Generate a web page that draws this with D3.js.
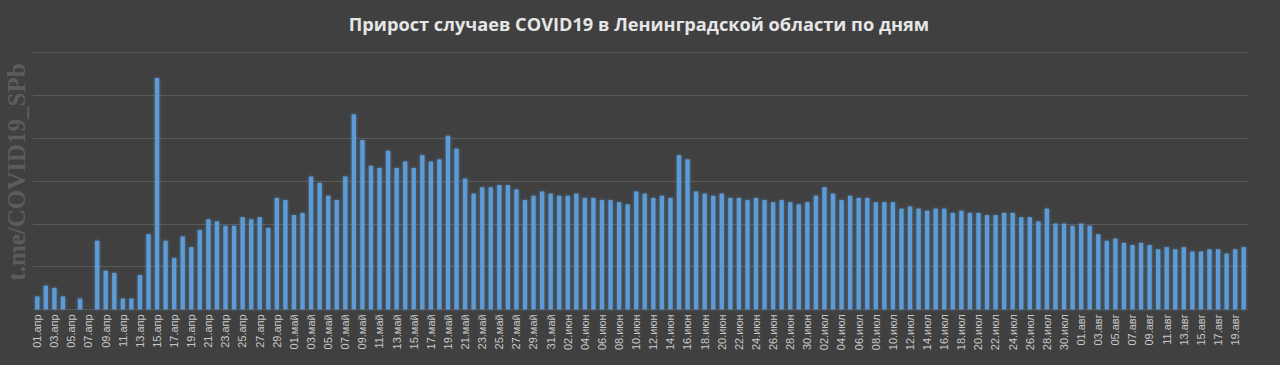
<!DOCTYPE html>
<html>
<head>
<meta charset="utf-8">
<script src="https://cdn.jsdelivr.net/npm/d3@7"></script>
<style>
  html, body { margin: 0; padding: 0; background: #404040; }
  svg { display: block; }
</style>
</head>
<body>
<svg id="chart" width="1280" height="365"></svg>
<script>
const chartTitle = "Прирост случаев COVID19 в Ленинградской области по дням";
const watermark = "t.me/COVID19_SPb";
const monthNames = ["апр", "май", "июн", "июл", "авг"];
const aprValues = [6,11,10,6,0,5,0,32,18,17,5,5,16,35,108,32,24,34,29,37,42,41,39,39,43,42,43,38,52,51];
const mayValues = [44,45,62,59,53,51,62,91,79,67,66,74,66,69,66,72,69,70,81,75,61,54,57,57,58,58,56,51,53,55,54];
const junValues = [53,53,54,52,52,51,51,50,49,55,54,52,53,52,72,70,55,54,53,54,52,52,51,52,51,50,51,50,49,50];
const julValues = [53,57,54,51,53,52,52,50,50,50,47,48,47,46,47,47,45,46,45,45,44,44,45,45,43,43,41,47,40,40,39];
const augValues = [40,39,35,32,33,31,30,31,30,28,29,28,29,27,27,28,28,26,28,29];
const yTicks = [0, 20, 40, 60, 80, 100, 120];

(function () {
const monthValues = [aprValues, mayValues, junValues, julValues, augValues];
const data = [];
monthValues.forEach((vals, m) => {
  vals.forEach((v, d) => {
    data.push({ label: String(d + 1).padStart(2, "0") + "." + monthNames[m], value: v });
  });
});

const svg = d3.select("#chart");
const W = 1280, H = 365;
const pLeft = 33, pRight = 1248, pTop = 52.3, pBottom = 309.3;

svg.append("rect").attr("width", W).attr("height", H).attr("fill", "#404040");

const defs = svg.append("defs");
const glow = defs.append("filter").attr("id", "glow")
  .attr("x", "-100%").attr("y", "-10%").attr("width", "300%").attr("height", "120%");
glow.append("feGaussianBlur").attr("in", "SourceGraphic").attr("stdDeviation", 1.6).attr("result", "b");
glow.append("feComponentTransfer").attr("in", "b").attr("result", "bf")
  .append("feFuncA").attr("type", "linear").attr("slope", 0.7);
const merge = glow.append("feMerge");
merge.append("feMergeNode").attr("in", "bf");
merge.append("feMergeNode").attr("in", "SourceGraphic");

const x = d3.scaleBand().domain(data.map(d => d.label)).range([pLeft, pRight]).paddingInner(0.5).paddingOuter(0.25);
const y = d3.scaleLinear().domain([0, 120]).range([pBottom, pTop]);

svg.append("g").selectAll("line").data(yTicks).join("line")
  .attr("x1", pLeft).attr("x2", pRight)
  .attr("y1", d => Math.round(y(d)) + 0.5).attr("y2", d => Math.round(y(d)) + 0.5)
  .attr("stroke", "#5a5a5a").attr("stroke-width", 1);

svg.append("text").attr("x", 639).attr("y", 31).attr("text-anchor", "middle")
  .attr("font-family", "'Open Sans', sans-serif").attr("font-weight", "bold").attr("font-size", 18.2)
  .attr("fill", "#e6e6e6").text(chartTitle);

svg.append("text").attr("transform", "translate(25,172) rotate(-90)").attr("text-anchor", "middle")
  .attr("font-family", "'Liberation Serif', 'DejaVu Serif', serif").attr("font-weight", "bold").attr("font-size", 25)
  .attr("fill", "#5c5c5c").text(watermark);

svg.append("g").attr("filter", "url(#glow)").selectAll("rect").data(data).join("rect")
  .attr("x", d => x(d.label)).attr("width", x.bandwidth())
  .attr("y", d => y(d.value)).attr("height", d => y(0) - y(d.value))
  .attr("fill", "#5b9bd5");

const xAxis = d3.axisBottom(x).tickSize(0).tickValues(data.filter((d, i) => i % 2 === 0).map(d => d.label));
const gx = svg.append("g").attr("transform", `translate(0,${pBottom})`).call(xAxis);
gx.select(".domain").remove();
gx.selectAll("text")
  .attr("transform", "rotate(-90)")
  .attr("text-anchor", "end")
  .attr("x", -5).attr("y", 0).attr("dy", "0.35em")
  .attr("font-family", "'Liberation Sans Narrow', 'Arial Narrow', 'Liberation Sans', sans-serif")
  .attr("font-size", 11)
  .attr("fill", "#c8c8c8");
})();
</script>
</body>
</html>
